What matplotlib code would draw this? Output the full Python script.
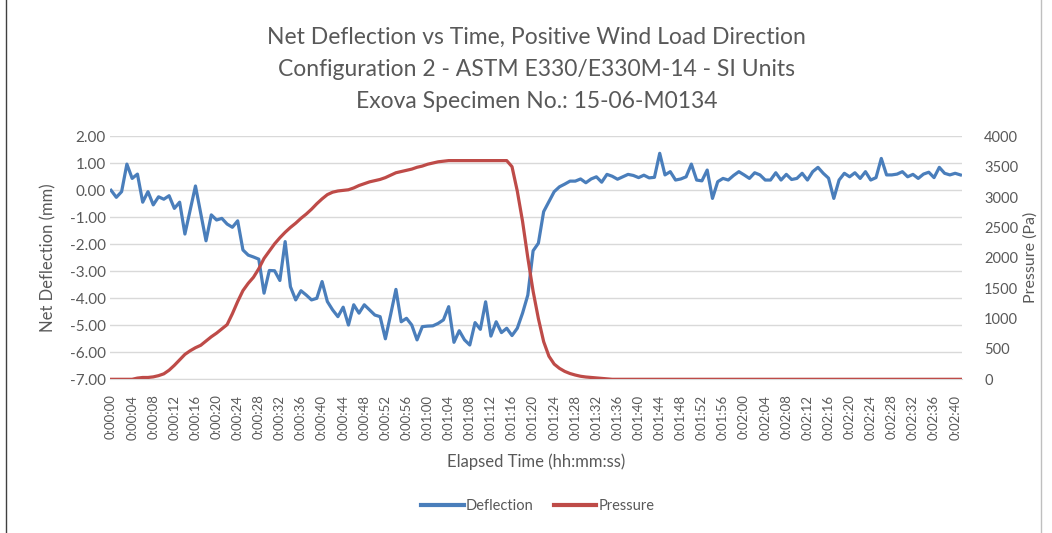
"""Net deflection vs time chart (positive wind load direction)
- deflection (mm) on the left axis, chamber pressure (Pa) on the right axis
- saves out.png
"""
import matplotlib
matplotlib.use("Agg")
import matplotlib.pyplot as plt
from matplotlib.lines import Line2D

# elapsed time in seconds, one reading per second
seconds = list(range(162))

deflection_mm = [
    0.00, -0.26, -0.05, 0.97, 0.44, 0.60, -0.44, -0.05, -0.54, -0.24,
    -0.33, -0.20, -0.67, -0.44, -1.62, -0.73, 0.16, -0.85, -1.87, -0.91,
    -1.10, -1.04, -1.25, -1.37, -1.13, -2.21, -2.40, -2.47, -2.55, -3.81,
    -2.97, -2.98, -3.34, -1.90, -3.57, -4.06, -3.72, -3.88, -4.06, -4.00,
    -3.38, -4.12, -4.43, -4.68, -4.33, -4.99, -4.24, -4.55, -4.24, -4.43,
    -4.62, -4.68, -5.50, -4.60, -3.67, -4.87, -4.74, -4.99, -5.54, -5.05,
    -5.03, -5.02, -4.93, -4.80, -4.31, -5.63, -5.20, -5.54, -5.73, -4.90,
    -5.15, -4.13, -5.40, -4.87, -5.27, -5.11, -5.38, -5.11, -4.55, -3.88,
    -2.24, -1.96, -0.79, -0.42, -0.05, 0.13, 0.23, 0.34, 0.34, 0.42,
    0.28, 0.42, 0.50, 0.30, 0.59, 0.52, 0.41, 0.50, 0.59, 0.55,
    0.47, 0.56, 0.46, 0.48, 1.37, 0.57, 0.69, 0.38, 0.42, 0.50,
    0.97, 0.38, 0.35, 0.75, -0.30, 0.32, 0.44, 0.38, 0.55, 0.69,
    0.57, 0.44, 0.65, 0.57, 0.38, 0.38, 0.65, 0.38, 0.59, 0.40,
    0.44, 0.63, 0.38, 0.69, 0.85, 0.63, 0.45, -0.30, 0.38, 0.63,
    0.50, 0.65, 0.44, 0.69, 0.38, 0.47, 1.18, 0.57, 0.57, 0.60,
    0.69, 0.50, 0.59, 0.44, 0.60, 0.67, 0.47, 0.85, 0.63, 0.57,
    0.63, 0.57,
]

pressure_pa = (
    [0, 0, 0, 0, 0, 20, 30, 30, 40, 60,
     90, 150, 230, 320, 410, 470, 520, 560, 630, 700,
     760, 830, 900, 1080, 1280, 1460, 1580, 1680, 1820, 1990,
     2110, 2230, 2330, 2420, 2500, 2570, 2650, 2720, 2800, 2890,
     2970, 3040, 3080, 3100, 3110, 3120, 3150, 3190, 3220, 3250,
     3270, 3290, 3320, 3360, 3400, 3420, 3440, 3460, 3490, 3510,
     3540, 3560, 3580, 3590]
    + [3600] * 12
    + [3500, 3100, 2600, 2000, 1450, 1000, 620, 380, 250, 180,
       130, 95, 70, 50, 38, 30, 22, 15, 8]
    + [0] * 67
)

defl_ticks = [2, 1, 0, -1, -2, -3, -4, -5, -6, -7]
pres_ticks = [0, 500, 1000, 1500, 2000, 2500, 3000, 3500, 4000]
time_ticks = list(range(0, 161, 4))

title_lines = [
    "Net Deflection vs Time, Positive Wind Load Direction",
    "Configuration 2 - ASTM E330/E330M-14 - SI Units",
    "Exova Specimen No.: 15-06-M0134",
]

BLUE = "#4a7ebb"
RED = "#be4b48"
TXT = "#595959"
GRID = "#d9d9d9"

plt.rcParams["font.family"] = ["Lato", "DejaVu Sans"]

W, H = 1052, 533
fig = plt.figure(figsize=(W / 100, H / 100), dpi=100)

# plot area in pixel coords of the reference
x0, x1, ytop, ybot = 110, 962, 136.3, 379.3
ax = fig.add_axes([x0 / W, 1 - ybot / H, (x1 - x0) / W, (ybot - ytop) / H])

ax.plot(seconds, deflection_mm, color=BLUE, lw=2.3, solid_joinstyle="round",
        zorder=3, label="Deflection")
ax.set_ylim(-7, 2)
ax.set_xlim(-0.2, 161.3)
ax.set_yticks(defl_ticks)
ax.set_yticklabels([f"{v:.2f}" for v in defl_ticks])
ax.grid(axis="y", color=GRID, lw=1)
ax.set_axisbelow(True)

def fmt_time(s):
    return f"0:{s // 60:02d}:{s % 60:02d}"

ax.set_xticks(time_ticks)
ax.set_xticklabels([fmt_time(s) for s in time_ticks], rotation=90)

for side in ("top", "left", "right"):
    ax.spines[side].set_visible(False)
ax.spines["bottom"].set_color(GRID)
ax.tick_params(axis="both", length=0, colors=TXT)
ax.tick_params(axis="x", pad=11, labelsize=9.5)
ax.tick_params(axis="y", pad=3, labelsize=11)

ax.set_ylabel("Net Deflection (mm)", color=TXT, fontsize=12, labelpad=10)
ax.set_xlabel("Elapsed Time (hh:mm:ss)", color=TXT, fontsize=12, labelpad=10)

ax2 = ax.twinx()
ax2.plot(seconds, pressure_pa, color=RED, lw=2.3, zorder=3, label="Pressure")
ax2.set_ylim(0, 4000)
ax2.set_yticks(pres_ticks)
for side in ("top", "left", "right", "bottom"):
    ax2.spines[side].set_visible(False)
ax2.tick_params(axis="y", length=0, colors=TXT, labelsize=10.5, pad=16)
ax2.set_ylabel("Pressure (Pa)", color=TXT, fontsize=11.5)
ax2.yaxis.set_label_coords((1023 - x0) / (x1 - x0), 0.5)

# titles
for i, line in enumerate(title_lines):
    fig.text(536.5 / W, 1 - (37 + 32 * i) / H, line, ha="center", va="center",
             fontsize=16.5, color=TXT)

handles = [Line2D([], [], color=BLUE, lw=3), Line2D([], [], color=RED, lw=3)]
fig.legend(handles, ["Deflection", "Pressure"], loc="center",
           bbox_to_anchor=(538 / W, 1 - 506 / H), ncol=2, frameon=False,
           fontsize=10.5, handlelength=2.9, handletextpad=0.15,
           columnspacing=1.4, labelcolor=TXT)

# chart border edges
fig.add_artist(Line2D([5.5 / W, 5.5 / W], [0, 1], color="#404040", lw=1))
fig.add_artist(Line2D([1041 / W, 1041 / W], [0, 1], color="#bfbfbf", lw=1))

fig.savefig("out.png", dpi=100)
plt.close(fig)
print("Saved out.png")
